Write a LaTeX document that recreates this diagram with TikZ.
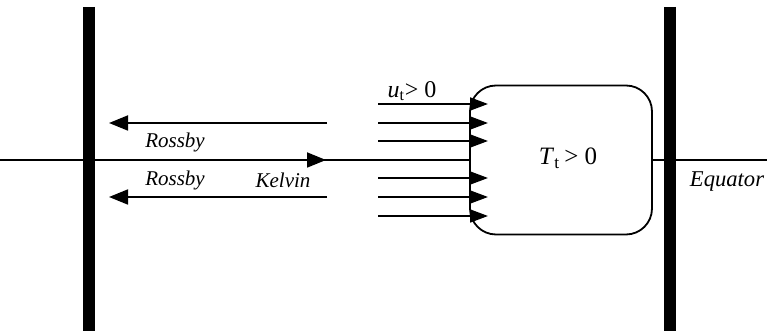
\documentclass[tikz,border=0pt]{standalone}
\usepackage{fontspec}
\setmainfont{Liberation Serif}
\usepackage{tikz}
\usetikzlibrary{arrows.meta}

\begin{document}
\begin{tikzpicture}[x=0.5pt, y=-0.5pt, every node/.style={font=\fontsize{10.5}{12}\selectfont\itshape},
    wave/.style={line width=0.9pt, -{Triangle[length=9.5pt,width=7.5pt]}},
    wind/.style={line width=0.9pt, -{Triangle[length=9pt,width=6.5pt]}},
    wall/.style={line width=6pt}]
\useasboundingbox (0,0) rectangle (767,331);

% Boundaries
\coordinate (wtop) at (89,7);
\coordinate (wbot) at (89,331);
\coordinate (etop) at (669.5,7);
\coordinate (ebot) at (669.5,331);

% Warm region
\node[draw, line width=0.9pt, rounded corners=13pt, minimum width=91pt, minimum height=74.5pt, inner sep=0pt] at (561,160) (box) {};
\node[font=\fontsize{12.5}{14}\selectfont] at (568,158) (tlabel) {\textit{T}\textsubscript{t}\,> 0};

% Equator
\coordinate (eqW) at (0,160);
\coordinate (eqE) at (767,160);
\coordinate (wk) at (89,160);
\draw[line width=0.9pt] (eqW) -- (box.west);
\draw[line width=0.9pt] (box.east) -- (eqE);
\node[font=\fontsize{11.3}{13}\selectfont\itshape] at (727,182) (eqlabel) {Equator};

\draw[wall] (wtop) -- (wbot);
\draw[wall] (etop) -- (ebot);

% Waves
\coordinate (kelvin) at (326,160);
\coordinate (r1a) at (327,123);
\coordinate (r1b) at (109,123);
\coordinate (r2a) at (327,197);
\coordinate (r2b) at (109,197);
\draw[wave] (wk) -- (kelvin);
\draw[wave] (r1a) -- (r1b);
\draw[wave] (r2a) -- (r2b);
\node at (175,142) (ross1) {Rossby};
\node at (175,180) (ross2) {Rossby};
\node at (283,180) (kel) {Kelvin};

% Wind forcing
\foreach \y in {104,123,141,178,197,216} {
    \coordinate (ws\y) at (378,\y);
    \coordinate (we\y) at (488,\y);
    \draw[wind] (ws\y) -- (we\y);
}
\node[font=\fontsize{12}{14}\selectfont] at (412,91) (ulabel) {\textit{u}\textsubscript{t}> 0};
\end{tikzpicture}
\end{document}
